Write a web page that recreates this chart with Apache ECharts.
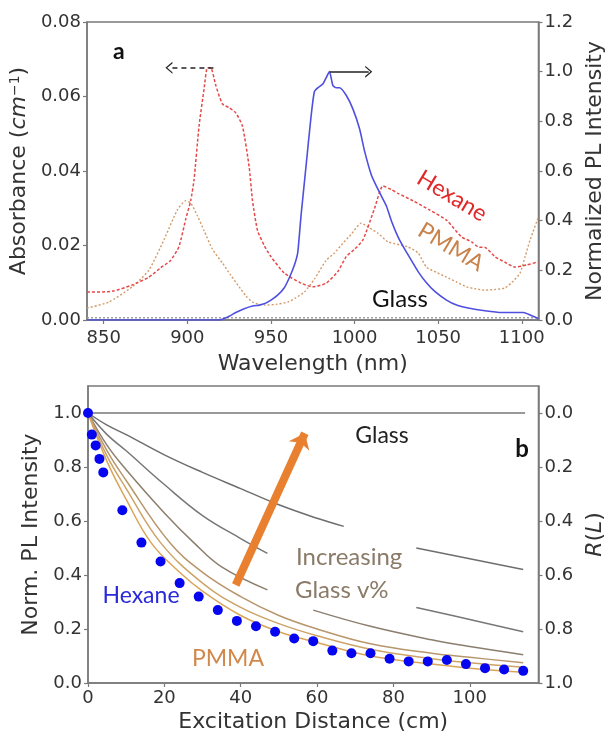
<!DOCTYPE html>
<html><head><meta charset="utf-8">
<script src="https://cdn.jsdelivr.net/npm/echarts@6/dist/echarts.min.js"></script>
<style>html,body{margin:0;padding:0;background:#fff}#c{width:614px;height:734px}</style>
</head><body><div id="c"></div>
<script>
// ---------- Panel a data ----------
const wlTicks = [850, 900, 950, 1000, 1050, 1100];
const absTicks = [0, 0.02, 0.04, 0.06, 0.08];
const plTicks = [0, 0.2, 0.4, 0.6, 0.8, 1.0, 1.2];

const plWave = [840, 880, 919, 925, 929, 934, 939, 943, 946, 950, 954, 958, 961, 964, 966, 968, 971, 974, 976, 978, 981, 983, 985, 987, 989, 991, 995, 999, 1003, 1006, 1010, 1013, 1016, 1019, 1022, 1026, 1030, 1034, 1038, 1043, 1048, 1055, 1061, 1068, 1078, 1088, 1095, 1101, 1105, 1110];
const plVal = [0, 0, 0, 0.015, 0.03, 0.045, 0.056, 0.06, 0.065, 0.08, 0.10, 0.13, 0.17, 0.22, 0.27, 0.42, 0.62, 0.82, 0.92, 0.935, 0.95, 0.975, 1.0, 0.945, 0.935, 0.935, 0.905, 0.85, 0.77, 0.68, 0.585, 0.54, 0.5, 0.46, 0.4, 0.335, 0.285, 0.24, 0.195, 0.15, 0.115, 0.08, 0.06, 0.048, 0.037, 0.03, 0.03, 0.03, 0.02, 0.005];

const hexWave = [840, 855, 867, 877, 884, 890, 895, 899, 902, 904, 907, 910, 912, 914, 917, 921, 925, 929, 933, 937, 939, 942, 946, 950, 958, 968, 975, 983, 990, 995, 1000, 1005, 1012, 1017, 1022, 1026, 1035, 1045, 1055, 1064, 1070, 1074, 1078, 1084, 1090, 1096, 1103, 1110];
const hexAbs = [0.0075, 0.0077, 0.0094, 0.0115, 0.014, 0.016, 0.0197, 0.027, 0.032, 0.0376, 0.052, 0.062, 0.0677, 0.0677, 0.063, 0.058, 0.057, 0.0556, 0.052, 0.041, 0.032, 0.024, 0.02, 0.017, 0.0126, 0.0099, 0.0089, 0.0099, 0.013, 0.017, 0.019, 0.0215, 0.030, 0.036, 0.035, 0.034, 0.032, 0.0295, 0.0268, 0.0223, 0.021, 0.0196, 0.0195, 0.017, 0.0155, 0.0142, 0.0148, 0.0156];

const pmWave = [840, 853, 867, 877, 886, 894, 899, 902, 906, 910, 915, 921, 926, 931, 935, 939, 946, 953, 960, 965, 970, 976, 983, 988, 993, 998, 1004, 1009, 1014, 1020, 1032, 1038, 1043, 1049, 1055, 1061, 1067, 1072, 1078, 1084, 1090, 1095, 1099, 1102, 1105, 1110];
const pmAbs = [0.0032, 0.0048, 0.0089, 0.0134, 0.0215, 0.0295, 0.032, 0.0314, 0.028, 0.024, 0.019, 0.0153, 0.012, 0.0089, 0.0065, 0.0048, 0.004, 0.0042, 0.0048, 0.006, 0.0075, 0.011, 0.016, 0.018, 0.0206, 0.023, 0.026, 0.0247, 0.0233, 0.021, 0.0196, 0.018, 0.0142, 0.0128, 0.0115, 0.0102, 0.0089, 0.0084, 0.008, 0.0082, 0.0086, 0.0105, 0.0126, 0.017, 0.0215, 0.0277];

const glWave = [840, 1110];
const glAbs = [0.0006, 0.0006];

// ---------- Panel b data ----------
const distTicks = [0, 20, 40, 60, 80, 100];
const intTicks = [0, 0.2, 0.4, 0.6, 0.8, 1.0];

const hexDist = [0, 1, 2, 3, 4, 9, 14, 19, 24, 29, 34, 39, 44, 49, 54, 59, 64, 69, 74, 79, 84, 89, 94, 99, 104, 109, 114];
const hexInt = [1.0, 0.92, 0.88, 0.83, 0.78, 0.64, 0.52, 0.45, 0.37, 0.32, 0.27, 0.23, 0.21, 0.19, 0.165, 0.155, 0.12, 0.11, 0.11, 0.09, 0.08, 0.08, 0.085, 0.07, 0.055, 0.05, 0.045];

const glassDist = [0, 114.5];
const glassInt = [1.0, 1.0];

// null marks a break in the drawn curve (label gap)
const c1Dist = [0, 5, 10, 20, 30, 40, 50, 60, 67, null, 86, 100, 114];
const c1Int = [1.0, 0.955, 0.92, 0.845, 0.78, 0.72, 0.66, 0.61, 0.58, null, 0.50, 0.46, 0.42];
const c2Dist = [0, 5, 10, 20, 30, 40, 47, null, 86, 100, 114];
const c2Int = [1.0, 0.92, 0.86, 0.735, 0.62, 0.535, 0.48, null, 0.28, 0.235, 0.19];
const c3Dist = [0, 5, 10, 20, 27.7, 35, 47, null, 59, 74, 90, 100, 114];
const c3Int = [1.0, 0.88, 0.79, 0.63, 0.52, 0.43, 0.345, null, 0.27, 0.21, 0.16, 0.135, 0.105];
const c4Dist = [0, 5, 10, 21.4, 30, 40, 50, 60, 74, 90, 100, 114];
const c4Int = [1.0, 0.86, 0.75, 0.52, 0.41, 0.32, 0.25, 0.2, 0.145, 0.11, 0.095, 0.075];
const c5Dist = [0, 5, 10, 19, 30, 40, 50, 60, 74, 90, 100, 114];
const c5Int = [1.0, 0.84, 0.72, 0.52, 0.37, 0.28, 0.22, 0.175, 0.125, 0.09, 0.075, 0.058];
const c6Dist = [0, 5, 10, 16.5, 24, 30, 40, 50, 60, 74, 90, 100, 114];
const c6Int = [1.0, 0.82, 0.68, 0.52, 0.41, 0.34, 0.25, 0.19, 0.15, 0.10, 0.07, 0.055, 0.04];

// ---------- build ----------
const zip = (xs, ys) => xs.map((x, i) => (x === null ? ['-', '-'] : [x, ys[i]]));
const TF = 'DejaVu Sans';
const axC = '#7a7a7a';
const txC = '#333';

function baseAxis(extra) {
  return Object.assign({
    axisLine: { show: true, onZero: false, lineStyle: { color: axC, width: 1.5 } },
    axisTick: { show: true, inside: false, length: 4, lineStyle: { color: axC, width: 1.2 } },
    axisLabel: { fontFamily: TF, fontSize: 18, color: txC, margin: 7 },
    splitLine: { show: false },
    nameLocation: 'middle',
    nameTextStyle: { fontFamily: TF, fontSize: 22, color: txC }
  }, extra);
}

const chevron = 'path://M0,10 L5,0 L10,10 L8.6,10 L5,2.6 L1.4,10 Z';

const option = {
  animation: false,
  backgroundColor: '#fff',
  grid: [
    { left: 87, top: 22, width: 464, height: 298, show: true, borderColor: axC, borderWidth: 1.5, backgroundColor: 'transparent' },
    { left: 88, top: 386, width: 464, height: 301, show: true, borderColor: axC, borderWidth: 1.5, backgroundColor: 'transparent' }
  ],
  xAxis: [
    baseAxis({
      type: 'value', gridIndex: 0, min: 840, max: 1110,
      name: 'Wavelength (nm)', nameGap: 33,
      axisTick: { show: true, length: 4, lineStyle: { color: axC, width: 1.2 }, customValues: wlTicks },
      axisLabel: { fontFamily: TF, fontSize: 18, color: txC, margin: 9, customValues: wlTicks, formatter: v => String(v) }
    }),
    baseAxis({
      type: 'value', gridIndex: 1, min: 0, max: 118,
      name: 'Excitation Distance (cm)', nameGap: 28,
      axisTick: { show: true, length: 4, lineStyle: { color: axC, width: 1.2 }, customValues: distTicks },
      axisLabel: { fontFamily: TF, fontSize: 18, color: txC, margin: 6, customValues: distTicks, formatter: v => String(v) }
    })
  ],
  yAxis: [
    baseAxis({
      type: 'value', gridIndex: 0, min: 0, max: 0.08, interval: 0.02, position: 'left',
      name: 'Absorbance ({i|cm}{s|−1})', nameGap: 48,
      nameTextStyle: {
        fontFamily: TF, fontSize: 22, color: txC,
        rich: {
          i: { fontFamily: TF, fontSize: 22, fontStyle: 'italic', color: txC },
          s: { fontFamily: TF, fontSize: 14, color: txC, verticalAlign: 'top' }
        }
      },
      axisLabel: { fontFamily: TF, fontSize: 18, color: txC, margin: 6, formatter: v => v.toFixed(2) }
    }),
    baseAxis({
      type: 'value', gridIndex: 0, min: 0, max: 1.2, interval: 0.2, position: 'right',
      name: 'Normalized PL Intensity', nameGap: 40, nameRotate: 90,
      axisLabel: { fontFamily: TF, fontSize: 18, color: txC, margin: 6, formatter: v => v.toFixed(1) }
    }),
    baseAxis({
      type: 'value', gridIndex: 1, min: 0, max: 1.1, position: 'left',
      name: 'Norm. PL Intensity', nameGap: 33,
      axisTick: { show: true, length: 4, lineStyle: { color: axC, width: 1.2 }, customValues: intTicks },
      axisLabel: { fontFamily: TF, fontSize: 18, color: txC, margin: 6, customValues: intTicks, formatter: v => v.toFixed(1) }
    }),
    baseAxis({
      type: 'value', gridIndex: 1, min: 0, max: 1.1, position: 'right',
      name: '{i|R}({i|L})', nameGap: 40, nameRotate: 90,
      nameTextStyle: {
        fontFamily: TF, fontSize: 22, color: txC,
        rich: { i: { fontFamily: TF, fontSize: 22, fontStyle: 'italic', color: txC } }
      },
      axisTick: { show: true, length: 4, lineStyle: { color: axC, width: 1.2 }, customValues: intTicks },
      axisLabel: { fontFamily: TF, fontSize: 18, color: txC, margin: 6, customValues: intTicks, formatter: v => (1 - v).toFixed(1) }
    })
  ],
  series: [
    { type: 'line', name: 'GlassAbs', xAxisIndex: 0, yAxisIndex: 0, data: zip(glWave, glAbs), showSymbol: false, z: 3,
      lineStyle: { color: '#a0a0a0', width: 1.5, type: [2, 2] } },
    { type: 'line', name: 'PMMA', xAxisIndex: 0, yAxisIndex: 0, data: zip(pmWave, pmAbs), showSymbol: false, smooth: 0.2,
      lineStyle: { color: '#d39a68', width: 1.4, type: [2, 2] } },
    { type: 'line', name: 'Hexane', xAxisIndex: 0, yAxisIndex: 0, data: zip(hexWave, hexAbs), showSymbol: false, smooth: 0.2,
      lineStyle: { color: '#e54848', width: 1.5, type: [3, 2] },
      markLine: { silent: true, symbol: ['none', chevron], symbolSize: [12, 7], label: { show: false },
        lineStyle: { color: '#222', width: 1.5, type: [5, 4] },
        data: [[{ coord: [915.6, 0.0677] }, { coord: [889, 0.0677] }]] } },
    { type: 'line', name: 'PL', xAxisIndex: 0, yAxisIndex: 1, data: zip(plWave, plVal), showSymbol: false, smooth: 0.2,
      lineStyle: { color: '#4f4fe0', width: 1.6 },
      markLine: { silent: true, symbol: ['none', chevron], symbolSize: [12, 7], label: { show: false },
        lineStyle: { color: '#222', width: 1.5, type: 'solid' },
        data: [[{ coord: [985.3, 1.0] }, { coord: [1008.5, 1.0] }]] } },

    { type: 'line', xAxisIndex: 1, yAxisIndex: 2, data: zip(glassDist, glassInt), showSymbol: false,
      lineStyle: { color: '#777', width: 1.6 } },
    { type: 'line', xAxisIndex: 1, yAxisIndex: 2, data: zip(c1Dist, c1Int), showSymbol: false, smooth: 0.4, connectNulls: false,
      lineStyle: { color: '#6e6e6e', width: 1.5 } },
    { type: 'line', xAxisIndex: 1, yAxisIndex: 2, data: zip(c2Dist, c2Int), showSymbol: false, smooth: 0.4, connectNulls: false,
      lineStyle: { color: '#777777', width: 1.5 } },
    { type: 'line', xAxisIndex: 1, yAxisIndex: 2, data: zip(c3Dist, c3Int), showSymbol: false, smooth: 0.4, connectNulls: false,
      lineStyle: { color: '#8c7e6e', width: 1.5 } },
    { type: 'line', xAxisIndex: 1, yAxisIndex: 2, data: zip(c4Dist, c4Int), showSymbol: false, smooth: 0.4,
      lineStyle: { color: '#b8966c', width: 1.5 } },
    { type: 'line', xAxisIndex: 1, yAxisIndex: 2, data: zip(c5Dist, c5Int), showSymbol: false, smooth: 0.4,
      lineStyle: { color: '#cda468', width: 1.5 } },
    { type: 'line', xAxisIndex: 1, yAxisIndex: 2, data: zip(c6Dist, c6Int), showSymbol: false, smooth: 0.4,
      lineStyle: { color: '#d9a55a', width: 1.5 } },
    { type: 'scatter', xAxisIndex: 1, yAxisIndex: 2, data: zip(hexDist, hexInt), symbolSize: 10,
      itemStyle: { color: '#0505f0', opacity: 1 }, z: 5,
      markLine: { silent: true, symbol: ['none', 'arrow'], symbolSize: [17, 14], label: { show: false },
        lineStyle: { color: '#e8802f', width: 8, type: 'solid', opacity: 1 },
        data: [[{ coord: [38.7, 0.363] }, { coord: [56.8, 0.925] }]] } }
  ],
  graphic: [
    { type: 'text', left: 113, top: 40, style: { text: 'a', font: 'bold 23px Lato', fill: '#111' } },
    { type: 'text', x: 400, y: 299, style: { text: 'Glass', font: '24px Lato', fill: '#111', align: 'center', verticalAlign: 'middle' } },
    { type: 'text', x: 452, y: 196, rotation: -0.54, style: { text: 'Hexane', font: '23px Lato', fill: '#e02828', align: 'center', verticalAlign: 'middle' } },
    { type: 'text', x: 451, y: 247, rotation: -0.54, style: { text: 'PMMA', font: '23px Lato', fill: '#c8824a', align: 'center', verticalAlign: 'middle' } },

    { type: 'text', x: 382, y: 436, style: { text: 'Glass', font: '23px Lato', fill: '#222', align: 'center', verticalAlign: 'middle' } },
    { type: 'text', x: 522, y: 449, style: { text: 'b', font: 'bold 24px Lato', fill: '#111', align: 'center', verticalAlign: 'middle' } },
    { type: 'text', x: 296, y: 557, style: { text: 'Increasing', font: '24px Lato', fill: '#8a7a68', align: 'left', verticalAlign: 'middle' } },
    { type: 'text', x: 295, y: 590, style: { text: 'Glass v%', font: '24px Lato', fill: '#8a7a68', align: 'left', verticalAlign: 'middle' } },
    { type: 'text', x: 141, y: 596, style: { text: 'Hexane', font: '23px Lato', fill: '#2a2ad8', align: 'center', verticalAlign: 'middle' } },
    { type: 'text', x: 228, y: 659, style: { text: 'PMMA', font: '23px Lato', fill: '#d2884a', align: 'center', verticalAlign: 'middle' } }
  ]
};

const chart = echarts.init(document.getElementById('c'), null, { renderer: 'canvas' });
chart.setOption(option);
</script>
</body></html>
